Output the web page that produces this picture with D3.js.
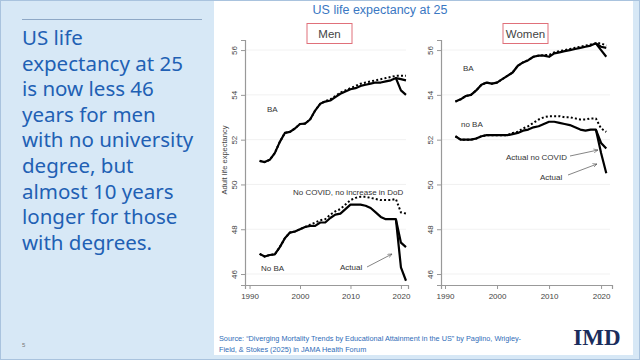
<!DOCTYPE html>
<html><head><meta charset="utf-8">
<script src="https://cdn.jsdelivr.net/npm/d3@7"></script>
<style>html,body{margin:0;padding:0;background:#fff;}svg{display:block;}</style>
</head><body>
<svg id="c" width="640" height="360"></svg>
<script>
const years = d3.range(1992, 2022);
const covidYears = [2019, 2020, 2021];
const xTicks = [1990, 2000, 2010, 2020];
const yTicks = [46, 48, 50, 52, 54, 56];

// Men
const menBA =        [51.05,51.0,51.1,51.4,51.9,52.3,52.35,52.5,52.7,52.72,52.9,53.3,53.6,53.7,53.75,53.9,54.05,54.15,54.25,54.3,54.4,54.45,54.5,54.55,54.55,54.6,54.65,54.75,54.2,54.0];
const menBANoCovid = [54.75,54.7,54.65];
const menBANoDoD =   [51.05,51.0,51.1,51.4,51.9,52.3,52.35,52.5,52.7,52.72,52.9,53.3,53.6,53.72,53.8,53.95,54.1,54.2,54.3,54.4,54.5,54.55,54.6,54.65,54.7,54.75,54.8,54.85,54.85,54.85];
const menNoBA =        [46.9,46.78,46.85,46.88,47.2,47.6,47.85,47.9,48.0,48.1,48.15,48.15,48.3,48.3,48.5,48.65,48.7,48.9,49.1,49.1,49.1,49.05,48.95,48.75,48.55,48.45,48.45,48.45,46.3,45.7];
const menNoBANoCovid = [48.45,47.4,47.2];
const menNoBANoDoD =   [46.9,46.78,46.85,46.88,47.2,47.6,47.85,47.9,48.0,48.1,48.2,48.3,48.4,48.45,48.65,48.8,48.9,49.1,49.3,49.4,49.45,49.45,49.4,49.35,49.3,49.3,49.3,49.35,48.75,48.7];

// Women
const womenBA =        [53.7,53.8,53.95,54.0,54.2,54.45,54.55,54.5,54.55,54.7,54.85,55.0,55.3,55.45,55.55,55.7,55.75,55.75,55.7,55.85,55.9,55.95,56.0,56.05,56.1,56.15,56.2,56.3,56.0,55.7];
const womenBANoCovid = [56.3,56.15,56.1];
const womenBANoDoD =   [53.7,53.8,53.95,54.0,54.2,54.45,54.55,54.5,54.55,54.7,54.85,55.0,55.3,55.45,55.55,55.7,55.75,55.78,55.78,55.9,55.95,56.0,56.05,56.1,56.15,56.2,56.25,56.3,56.3,56.2];
const womenNoBA =        [52.15,52.0,52.0,52.0,52.05,52.15,52.2,52.2,52.2,52.2,52.2,52.25,52.3,52.4,52.45,52.55,52.6,52.7,52.8,52.8,52.75,52.7,52.65,52.55,52.45,52.4,52.45,52.45,51.4,50.5];
const womenNoBANoCovid = [52.45,51.85,51.6];
const womenNoBANoDoD =   [52.15,52.0,52.0,52.0,52.05,52.15,52.2,52.2,52.2,52.2,52.2,52.3,52.35,52.5,52.6,52.75,52.9,53.0,53.05,53.05,53.05,53.0,53.0,52.95,52.9,52.9,52.95,52.95,52.5,52.35];

const textLines = ["US life","expectancy at 25","is now less 46","years for men","with no university","degree, but","almost 10 years","longer for those","with degrees."];

const svg = d3.select("#c");
// slide background
svg.append("rect").attr("width",640).attr("height",360).attr("fill","#d7e8f6");
svg.append("rect").attr("x",214).attr("y",1).attr("width",419).attr("height",354).attr("fill","#ffffff");
svg.append("rect").attr("x",0.5).attr("y",0.5).attr("width",639).attr("height",359).attr("fill","none").attr("stroke","#a9c3de");

// left panel
svg.append("line").attr("x1",22).attr("x2",202).attr("y1",19.5).attr("y2",19.5).attr("stroke","#8ea8c6").attr("stroke-width",1);
svg.append("g").selectAll("text").data(textLines).join("text")
  .attr("x",22).attr("y",(d,i)=>45+i*25.6)
  .attr("font-family","Noto Sans").attr("font-size",20.5).attr("fill","#2160b4")
  .text(d=>d);
svg.append("text").attr("x",22).attr("y",347).attr("font-family","Liberation Sans").attr("font-size",6).attr("fill","#777").text("5");

// title
svg.append("text").attr("x",380).attr("y",14).attr("text-anchor","middle")
  .attr("font-family","Liberation Sans").attr("font-size",12.5).attr("fill","#3a77c2").text("US life expectancy at 25");

// source
const src = svg.append("text").attr("font-family","Liberation Sans").attr("font-size",7.3).attr("fill","#2f6db8");
src.append("tspan").attr("x",219).attr("y",341).text("Source: \u201cDiverging Mortality Trends by Educational Attainment in the US\u201d by Paglino, Wrigley-");
src.append("tspan").attr("x",219).attr("y",352).text("Field, & Stokes (2025) in JAMA Health Forum");
svg.append("text").attr("x",597).attr("y",345).attr("text-anchor","middle")
  .attr("font-family","Liberation Serif").attr("font-weight","bold").attr("font-size",23).attr("fill","#1b2d5c").text("IMD");

// arrow marker
svg.append("defs").append("marker").attr("id","ah").attr("viewBox","0 0 10 10").attr("refX",9).attr("refY",5)
  .attr("markerWidth",6).attr("markerHeight",6).attr("orient","auto")
  .append("path").attr("d","M0,1 L9,5 L0,9").attr("fill","none").attr("stroke","#555").attr("stroke-width",1.2);

function panel(cfg){
  const x = d3.scaleLinear().domain(cfg.xdom).range(cfg.xr);
  const y = d3.scaleLinear().domain([45.51,56.45]).range([285,40]);
  const g = svg.append("g");
  // grid
  g.selectAll(".grid").data(yTicks).join("line")
    .attr("x1",cfg.xr[0]+1).attr("x2",cfg.xr[1]-2).attr("y1",d=>y(d)).attr("y2",d=>y(d))
    .attr("stroke","#eeeeee").attr("stroke-width",0.8);
  // y axis
  const ya = g.append("g").attr("transform",`translate(${cfg.xr[0]},0)`)
    .call(d3.axisLeft(y).tickValues(yTicks).tickSize(4).tickFormat(d3.format("d")));
  ya.select(".domain").attr("stroke","#999").attr("stroke-width",1.2);
  ya.selectAll(".tick line").attr("stroke","#999");
  ya.selectAll(".tick text").attr("font-family","Liberation Sans").attr("font-size",8).attr("fill","#444")
    .attr("transform","rotate(-90)").attr("x",0).attr("y",-8).attr("dy","0").attr("text-anchor","middle");
  // x axis
  const xa = g.append("g").attr("transform","translate(0,285)")
    .call(d3.axisBottom(x).tickValues(xTicks).tickSize(4).tickFormat(d3.format("d")));
  xa.select(".domain").attr("stroke","#999").attr("stroke-width",1.2);
  xa.selectAll(".tick line").attr("stroke","#999");
  xa.selectAll(".tick text").attr("font-family","Liberation Sans").attr("font-size",8).attr("fill","#444").attr("dy","0.9em");
  // panel title box
  g.append("rect").attr("x",cfg.boxX).attr("y",23.5).attr("width",cfg.boxW).attr("height",20).attr("fill","#fff").attr("stroke","#e0707a").attr("stroke-width",1);
  g.append("text").attr("x",cfg.boxX+cfg.boxW/2).attr("y",38).attr("text-anchor","middle")
    .attr("font-family","Liberation Sans").attr("font-size",11.5).attr("fill","#444").text(cfg.title);
  const line = d3.line().x(d=>x(d[0])).y(d=>y(d[1]));
  const draw = (vals, yrs, dotted) => g.append("path").datum(yrs.map((yr,i)=>[yr,vals[i]]))
    .attr("d",line).attr("fill","none").attr("stroke","#000")
    .attr("stroke-width",dotted?2:2.2).attr("stroke-dasharray",dotted?"2,2.2":null)
    .attr("stroke-linejoin","round");
  cfg.series.forEach(s=>draw(s[0], s[1], s[2]));
  cfg.labels.forEach(l=>g.append("text").attr("x",l[0]).attr("y",l[1]).attr("text-anchor",l[3]||"start")
    .attr("font-family","Liberation Sans").attr("font-size",8).attr("fill","#333").text(l[2]));
  cfg.arrows.forEach(a=>g.append("line").attr("x1",a[0]).attr("y1",a[1]).attr("x2",a[2]).attr("y2",a[3])
    .attr("stroke","#666").attr("stroke-width",0.8).attr("marker-end","url(#ah)"));
  return {x,y};
}

panel({
  xdom:[1989.1,2021.4], xr:[245,408], boxX:307, boxW:45, title:"Men",
  series:[[menBANoDoD,years,true],[menNoBANoDoD,years,true],[menBA,years,false],[menBANoCovid,covidYears,false],[menNoBA,years,false],[menNoBANoCovid,covidYears,false]],
  labels:[[267,112,"BA"],[293,195,"No COVID, no increase in DoD"],[261,271,"No BA"],[340,270,"Actual"]],
  arrows:[[367,267,392,254]]
});
svg.append("text").attr("transform","translate(227,160) rotate(-90)").attr("text-anchor","middle")
  .attr("font-family","Liberation Sans").attr("font-size",7.5).attr("fill","#444").text("Adult life expectancy");

panel({
  xdom:[1989.23,2022.1], xr:[441,612], boxX:503, boxW:45, title:"Women",
  series:[[womenBANoDoD,years,true],[womenNoBANoDoD,years,true],[womenBA,years,false],[womenBANoCovid,covidYears,false],[womenNoBA,years,false],[womenNoBANoCovid,covidYears,false]],
  labels:[[463,71,"BA"],[461,127,"no BA"],[506,160,"Actual no COVID"],[540,180,"Actual"]],
  arrows:[[570,156,598,150],[568,175,597,164]]
});
</script>
</body></html>
